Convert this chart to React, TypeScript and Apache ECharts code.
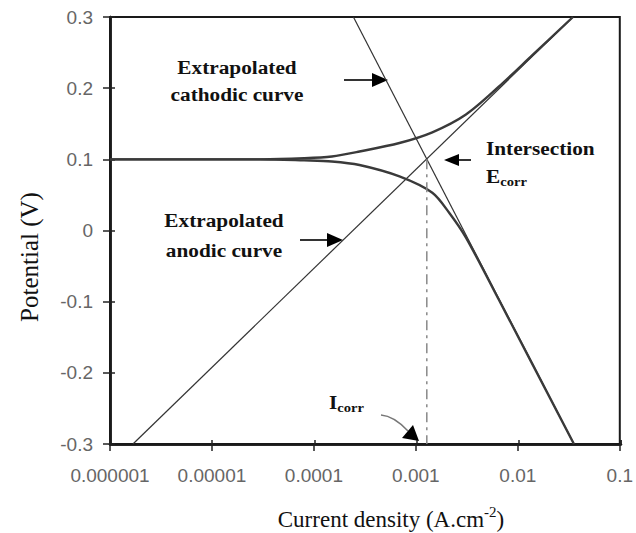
import { useEffect, useRef } from 'react';
import * as echarts from 'echarts';

// Axis tick labels
const X_TICK_LABELS = ['0.000001', '0.00001', '0.0001', '0.001', '0.01', '0.1'];
const Y_TICK_LABELS = ['-0.3', '-0.2', '-0.1', '0', '0.1', '0.2', '0.3'];

// Points are [current density (A.cm-2), potential (V)]
const anodicTafel = [
  [1.68e-6, -0.3],
  [0.0347, 0.3],
];
const cathodicTafel = [
  [2.44e-4, 0.3],
  [0.0355, -0.3],
];
const anodicBranch = [
  [1e-6, 0.1],
  [3e-5, 0.1],
  [8e-5, 0.1015],
  [1.5e-4, 0.104],
  [2.8e-4, 0.111],
  [6.9e-4, 0.123],
  [1.45e-3, 0.138],
  [3.1e-3, 0.163],
  [6.5e-3, 0.202],
  [0.0138, 0.246],
  [0.0347, 0.3],
];
const cathodicBranch = [
  [1e-6, 0.1],
  [3e-5, 0.1],
  [8e-5, 0.0985],
  [1.5e-4, 0.097],
  [2.8e-4, 0.092],
  [6.9e-4, 0.076],
  [1.45e-3, 0.053],
  [2.12e-3, 0.025],
  [3.1e-3, -0.01],
  [6.5e-3, -0.097],
  [0.0355, -0.3],
];
const I_CORR = 1.28e-3;
const E_CORR = 0.1;
const icorrMarker = [
  [I_CORR, E_CORR],
  [I_CORR, -0.3],
];

const SERIF = '"Liberation Serif", "Times New Roman", serif';
const SANS = '"Liberation Sans", Arial, sans-serif';

const X_MIN = 1e-6;
const X_MAX = 0.1;
const Y_MIN = -0.3;
const Y_MAX = 0.3;

function label(text: string, x: number, y: number, align: 'left' | 'center' = 'center') {
  return {
    type: 'text',
    x,
    y,
    scaleX: 1.12,
    style: {
      text,
      fontFamily: SERIF,
      fontWeight: 'bold',
      fontSize: 19,
      fill: '#111',
      align,
      verticalAlign: 'middle',
    },
  };
}

function subLabel(main: string, sub: string, x: number, y: number) {
  return {
    type: 'text',
    x,
    y,
    scaleX: 1.12,
    style: {
      text: `{m|${main}}{s|${sub}}`,
      align: 'left',
      verticalAlign: 'middle',
      rich: {
        m: { fontFamily: SERIF, fontWeight: 'bold', fontSize: 19, lineHeight: 24, fill: '#111' },
        s: {
          fontFamily: SERIF,
          fontWeight: 'bold',
          fontSize: 13,
          lineHeight: 13,
          verticalAlign: 'bottom',
          fill: '#111',
        },
      },
    },
  };
}

function arrow(x1: number, y1: number, x2: number, y2: number, headLen = 16, headHalf = 7) {
  const dx = x2 - x1;
  const dy = y2 - y1;
  const len = Math.hypot(dx, dy);
  const ux = dx / len;
  const uy = dy / len;
  const bx = x2 - ux * headLen;
  const by = y2 - uy * headLen;
  return [
    {
      type: 'line',
      shape: { x1, y1, x2: bx, y2: by },
      style: { stroke: '#333', lineWidth: 2 },
    },
    {
      type: 'polygon',
      shape: {
        points: [
          [x2, y2],
          [bx - uy * headHalf, by + ux * headHalf],
          [bx + uy * headHalf, by - ux * headHalf],
        ],
      },
      style: { fill: '#000' },
    },
  ];
}

export default function App() {
  const ref = useRef<HTMLDivElement>(null);

  useEffect(() => {
    document.body.style.margin = '0';
    if (!ref.current) return;
    const chart = echarts.init(ref.current, undefined, { renderer: 'svg' });

    const curveStyle = { color: '#3a3a3a', width: 2.4 };
    const fitStyle = { color: '#333', width: 1.2 };
    const axisLineStyle = { color: '#1a1a1a', width: 2.5 };
    const tickLineStyle = { color: '#222', width: 1.5 };
    const gridRect = { left: 110, right: 15, top: 17, bottom: 89 };

    chart.setOption({
      animation: false,
      backgroundColor: '#fff',
      grid: [
        { ...gridRect, show: true, borderColor: '#1a1a1a', borderWidth: 2 },
        // same rectangle, carries the inward half of the tick marks
        { ...gridRect, show: false },
      ],
      xAxis: [
        {
          type: 'log',
          logBase: 10,
          min: X_MIN,
          max: X_MAX,
          gridIndex: 0,
          position: 'bottom',
          axisLine: { show: true, onZero: false, lineStyle: axisLineStyle },
          axisTick: { show: true, inside: false, length: 7, lineStyle: tickLineStyle },
          axisLabel: {
            margin: 22,
            color: '#666',
            fontFamily: SANS,
            fontSize: 19,
            formatter: (v: number) => X_TICK_LABELS[Math.round(Math.log10(v)) + 6] ?? '',
          },
          splitLine: { show: false },
          minorTick: { show: false },
        },
        {
          type: 'log',
          logBase: 10,
          min: X_MIN,
          max: X_MAX,
          gridIndex: 1,
          position: 'bottom',
          axisLine: { show: true, onZero: false, lineStyle: axisLineStyle },
          axisTick: { show: true, inside: true, length: 4, lineStyle: tickLineStyle },
          axisLabel: { show: false },
          splitLine: { show: false },
        },
      ],
      yAxis: [
        {
          type: 'value',
          min: Y_MIN,
          max: Y_MAX,
          interval: 0.1,
          gridIndex: 0,
          position: 'left',
          axisLine: { show: true, onZero: false, lineStyle: axisLineStyle },
          axisTick: { show: true, inside: false, length: 7, lineStyle: tickLineStyle },
          axisLabel: {
            margin: 17,
            color: '#666',
            fontFamily: SANS,
            fontSize: 19,
            formatter: (v: number) => Y_TICK_LABELS[Math.round(v * 10) + 3] ?? '',
          },
          splitLine: { show: false },
        },
        {
          type: 'value',
          min: Y_MIN,
          max: Y_MAX,
          interval: 0.1,
          gridIndex: 1,
          position: 'left',
          axisLine: { show: true, onZero: false, lineStyle: axisLineStyle },
          axisTick: { show: true, inside: true, length: 5, lineStyle: tickLineStyle },
          axisLabel: { show: false },
          splitLine: { show: false },
        },
      ],
      series: [
        {
          name: 'Extrapolated anodic curve',
          type: 'line',
          data: anodicTafel,
          symbol: 'none',
          lineStyle: fitStyle,
        },
        {
          name: 'Extrapolated cathodic curve',
          type: 'line',
          data: cathodicTafel,
          symbol: 'none',
          lineStyle: fitStyle,
        },
        {
          name: 'Anodic branch',
          type: 'line',
          data: anodicBranch,
          symbol: 'none',
          smooth: 0.3,
          lineStyle: curveStyle,
        },
        {
          name: 'Cathodic branch',
          type: 'line',
          data: cathodicBranch,
          symbol: 'none',
          smooth: 0.3,
          lineStyle: curveStyle,
        },
        {
          name: 'Icorr',
          type: 'line',
          data: icorrMarker,
          symbol: 'none',
          lineStyle: { color: '#888', width: 1.5, type: [10, 5, 3, 5] },
        },
      ],
      graphic: [
        label('Extrapolated', 237, 67),
        label('cathodic curve', 237, 94),
        label('Extrapolated', 224, 220),
        label('anodic curve', 224, 250),
        label('Intersection', 486, 148, 'left'),
        subLabel('E', 'corr', 486, 176),
        subLabel('I', 'corr', 329, 402),
        ...arrow(344, 80, 388, 80),
        ...arrow(300, 240, 343, 240),
        ...arrow(471, 160, 444, 160, 15, 6),
        {
          type: 'bezierCurve',
          shape: { x1: 381, y1: 415, cpx1: 394, cpy1: 416, x2: 408, y2: 431 },
          style: { stroke: '#777', lineWidth: 1.5, fill: null },
        },
        {
          type: 'polygon',
          shape: { points: [[419, 441], [402, 438], [413, 425]] },
          style: { fill: '#000' },
        },
        {
          type: 'text',
          x: 29,
          y: 257,
          rotation: Math.PI / 2,
          style: {
            text: 'Potential (V)',
            fontFamily: SERIF,
            fontSize: 25,
            fill: '#111',
            align: 'center',
            verticalAlign: 'middle',
          },
        },
        {
          type: 'text',
          x: 391,
          y: 519,
          style: {
            text: '{n|Current density (A.cm}{s|-2}{n|)}',
            align: 'center',
            verticalAlign: 'middle',
            rich: {
              n: { fontFamily: SERIF, fontSize: 23, lineHeight: 30, fill: '#111' },
              s: { fontFamily: SERIF, fontSize: 15, lineHeight: 15, verticalAlign: 'top', fill: '#111' },
            },
          },
        },
      ],
    });

    return () => chart.dispose();
  }, []);

  return <div ref={ref} style={{ width: 636, height: 533 }} />;
}
